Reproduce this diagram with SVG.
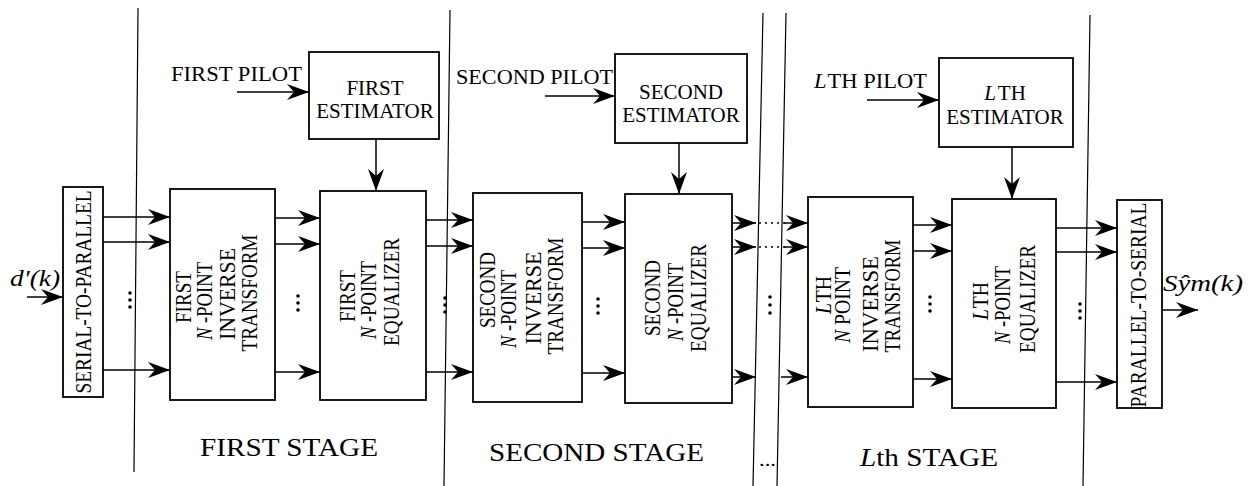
<svg xmlns="http://www.w3.org/2000/svg" width="1252" height="486" viewBox="0 0 1252 486">
<style>
text{font-family:"Liberation Serif","Times New Roman",serif;fill:#000}
.box{fill:#fff;stroke:#000;stroke-width:1.8}
.ln{stroke:#000;stroke-width:1.5;fill:none}
.ar{stroke:#000;stroke-width:1.5;fill:none;marker-end:url(#ah)}
.dot{stroke:#000;stroke-width:1.6;stroke-dasharray:2 4;fill:none}
.div{stroke:#000;stroke-width:1.2;fill:none}
.h{font-size:21px;text-anchor:middle}
.r{font-size:24px;text-anchor:middle}
.st{font-size:26px}
.lbl{font-size:21px}
.it{font-style:italic}
</style>
<defs>
<marker id="ah" markerUnits="userSpaceOnUse" viewBox="-23 -9 24 18" refX="0" refY="0" markerWidth="24" markerHeight="18" orient="auto">
<path d="M0,0 L-22,-8 L-15,0 L-22,8 Z" fill="#000"/>
</marker>
</defs>
<rect width="1252" height="486" fill="#fff"/>

<g id="stage-dividers">
<path class="div" d="M138,8 L134,472"/>
<path class="div" d="M450,10 L444,486"/>
<path class="div" d="M763,13 L753,486"/>
<path class="div" d="M786,13 L777,486"/>
<path class="div" d="M1090,15 L1083,486"/>
</g>

<g id="serial-to-parallel">
<rect class="box" x="63" y="187" width="40" height="210"/>
<text class="r" transform="translate(91,292) rotate(-90)" font-size="21" textLength="203" lengthAdjust="spacingAndGlyphs">SERIAL-TO-PARALLEL</text>
</g>

<g id="first-transform">
<rect class="box" x="170" y="189" width="105" height="211"/>
<g transform="translate(0,297)">
<text class="r" transform="translate(191,0) rotate(-90)" textLength="52" lengthAdjust="spacingAndGlyphs">FIRST</text>
<text class="r" transform="translate(212,4) rotate(-90)" textLength="78" lengthAdjust="spacingAndGlyphs"><tspan class="it">N</tspan> -POINT</text>
<text class="r" transform="translate(235,-3) rotate(-90)" textLength="92" lengthAdjust="spacingAndGlyphs">INVERSE</text>
<text class="r" transform="translate(257,-4) rotate(-90)" textLength="117" lengthAdjust="spacingAndGlyphs">TRANSFORM</text>
</g>
</g>

<g id="first-equalizer">
<rect class="box" x="320" y="191" width="106" height="209"/>
<g transform="translate(0,296)">
<text class="r" transform="translate(355,0) rotate(-90)" textLength="52" lengthAdjust="spacingAndGlyphs">FIRST</text>
<text class="r" transform="translate(376,4) rotate(-90)" textLength="78" lengthAdjust="spacingAndGlyphs"><tspan class="it">N</tspan> -POINT</text>
<text class="r" transform="translate(399,-4) rotate(-90)" textLength="108" lengthAdjust="spacingAndGlyphs">EQUALIZER</text>
</g>
</g>

<g id="first-estimator">
<rect class="box" x="309" y="52" width="130" height="87"/>
<text class="h" x="375" y="95">FIRST</text>
<text class="h" x="375" y="118">ESTIMATOR</text>
</g>
<text class="lbl" x="171" y="81" textLength="131" lengthAdjust="spacingAndGlyphs">FIRST PILOT</text>

<g id="second-transform">
<rect class="box" x="473" y="193" width="109" height="209"/>
<g transform="translate(0,298)">
<text class="r" transform="translate(495,-8) rotate(-90)" textLength="76" lengthAdjust="spacingAndGlyphs">SECOND</text>
<text class="r" transform="translate(516,11) rotate(-90)" textLength="78" lengthAdjust="spacingAndGlyphs"><tspan class="it">N</tspan> -POINT</text>
<text class="r" transform="translate(541,0) rotate(-90)" textLength="93" lengthAdjust="spacingAndGlyphs">INVERSE</text>
<text class="r" transform="translate(563,-2) rotate(-90)" textLength="117" lengthAdjust="spacingAndGlyphs">TRANSFORM</text>
</g>
</g>

<g id="second-equalizer">
<rect class="box" x="625" y="194" width="107" height="209"/>
<g transform="translate(0,298)">
<text class="r" transform="translate(660,0) rotate(-90)" textLength="76" lengthAdjust="spacingAndGlyphs">SECOND</text>
<text class="r" transform="translate(683,4) rotate(-90)" textLength="78" lengthAdjust="spacingAndGlyphs"><tspan class="it">N</tspan> -POINT</text>
<text class="r" transform="translate(706,0) rotate(-90)" textLength="108" lengthAdjust="spacingAndGlyphs">EQUALIZER</text>
</g>
</g>

<g id="second-estimator">
<rect class="box" x="615" y="54" width="132" height="89"/>
<text class="h" x="681" y="99">SECOND</text>
<text class="h" x="681" y="122">ESTIMATOR</text>
</g>
<text class="lbl" x="456" y="84" textLength="157" lengthAdjust="spacingAndGlyphs">SECOND PILOT</text>

<g id="lth-transform">
<rect class="box" x="808" y="197" width="105" height="210"/>
<g transform="translate(0,300)">
<text class="r" transform="translate(831,-5) rotate(-90)" textLength="38" lengthAdjust="spacingAndGlyphs"><tspan class="it">L</tspan><tspan dx="1">TH</tspan></text>
<text class="r" transform="translate(850,5) rotate(-90)" textLength="76" lengthAdjust="spacingAndGlyphs"><tspan class="it">N</tspan> POINT</text>
<text class="r" transform="translate(878,4) rotate(-90)" textLength="96" lengthAdjust="spacingAndGlyphs">INVERSE</text>
<text class="r" transform="translate(900,-4) rotate(-90)" textLength="113" lengthAdjust="spacingAndGlyphs">TRANSFORM</text>
</g>
</g>

<g id="lth-equalizer">
<rect class="box" x="952" y="199" width="104" height="209"/>
<g transform="translate(0,301)">
<text class="r" transform="translate(988,0) rotate(-90)" textLength="38" lengthAdjust="spacingAndGlyphs"><tspan class="it">L</tspan><tspan dx="1">TH</tspan></text>
<text class="r" transform="translate(1010,4) rotate(-90)" textLength="78" lengthAdjust="spacingAndGlyphs"><tspan class="it">N</tspan> -POINT</text>
<text class="r" transform="translate(1035,-2) rotate(-90)" textLength="108" lengthAdjust="spacingAndGlyphs">EQUALIZER</text>
</g>
</g>

<g id="lth-estimator">
<rect class="box" x="939" y="58" width="134" height="89"/>
<text class="h" x="1005" y="100"><tspan class="it">L</tspan><tspan dx="2">TH</tspan></text>
<text class="h" x="1005" y="124">ESTIMATOR</text>
</g>
<text class="lbl" x="814" y="88" textLength="113" lengthAdjust="spacingAndGlyphs"><tspan class="it">L</tspan><tspan dx="1">TH PILOT</tspan></text>

<g id="parallel-to-serial">
<rect class="box" x="1117" y="200" width="45" height="208"/>
<text class="r" transform="translate(1146,305) rotate(-90)" font-size="21" textLength="205" lengthAdjust="spacingAndGlyphs">PARALLEL-TO-SERIAL</text>
</g>

<g id="connectors">
<path class="ar" d="M27,297 H63"/>
<path class="ar" d="M103,217 H170"/><path class="ar" d="M103,242 H170"/><path class="ar" d="M103,370 H170"/>
<path class="ar" d="M275,218 H320"/><path class="ar" d="M275,244 H320"/><path class="ar" d="M275,372 H320"/>
<path class="ar" d="M426,220 H473"/><path class="ar" d="M426,246 H473"/><path class="ar" d="M426,372 H473"/>
<path class="ar" d="M582,222 H625"/><path class="ar" d="M582,248 H625"/><path class="ar" d="M582,373 H625"/>
<path class="ar" d="M732,223 H756"/><path class="ar" d="M732,247 H756"/><path class="ar" d="M732,377 H756"/>
<path class="dot" d="M759,223 H786 M759,247 H786"/>
<path class="ar" d="M784,223 H808"/><path class="ar" d="M784,247 H808"/><path class="ar" d="M781,377 H808"/>
<path class="ar" d="M913,225 H952"/><path class="ar" d="M913,251 H952"/><path class="ar" d="M913,379 H952"/>
<path class="ar" d="M1056,228 H1117"/><path class="ar" d="M1056,252 H1117"/><path class="ar" d="M1056,382 H1117"/>
<path class="ar" d="M1162,310 H1198"/>
<path class="ar" d="M237,92 H309"/>
<path class="ar" d="M545,96 H615"/>
<path class="ar" d="M867,100 H939"/>
<path class="ar" d="M376,139 V191"/>
<path class="ar" d="M679,143 V194"/>
<path class="ar" d="M1012,147 V199"/>
</g>

<g id="ellipses" fill="#000">
<circle cx="130" cy="293" r="1.8"/><circle cx="130" cy="300" r="1.8"/><circle cx="130" cy="307" r="1.8"/>
<circle cx="298" cy="296" r="1.8"/><circle cx="298" cy="303" r="1.8"/><circle cx="298" cy="310" r="1.8"/>
<circle cx="445" cy="298" r="1.8"/><circle cx="445" cy="305" r="1.8"/><circle cx="445" cy="312" r="1.8"/>
<circle cx="598" cy="299" r="1.8"/><circle cx="598" cy="306" r="1.8"/><circle cx="598" cy="313" r="1.8"/>
<circle cx="770" cy="297" r="1.8"/><circle cx="770" cy="305" r="1.8"/><circle cx="770" cy="313" r="1.8"/>
<circle cx="930" cy="297" r="1.8"/><circle cx="930" cy="304" r="1.8"/><circle cx="930" cy="311" r="1.8"/>
<circle cx="1080" cy="304" r="1.8"/><circle cx="1080" cy="311" r="1.8"/><circle cx="1080" cy="318" r="1.8"/>
</g>

<text class="it" x="10" y="286" font-size="24" textLength="50" lengthAdjust="spacingAndGlyphs">d′(k)</text>
<text class="it" x="1163" y="291" font-size="24" textLength="80" lengthAdjust="spacingAndGlyphs">Sŷm(k)</text>

<text class="st" x="200" y="456" textLength="178" lengthAdjust="spacingAndGlyphs">FIRST STAGE</text>
<text class="st" x="489" y="461" textLength="215" lengthAdjust="spacingAndGlyphs">SECOND STAGE</text>
<text class="st" x="860" y="466" textLength="138" lengthAdjust="spacingAndGlyphs"><tspan class="it">L</tspan>th STAGE</text>
<text x="759" y="466" font-size="18" textLength="17" lengthAdjust="spacingAndGlyphs">...</text>
</svg>
